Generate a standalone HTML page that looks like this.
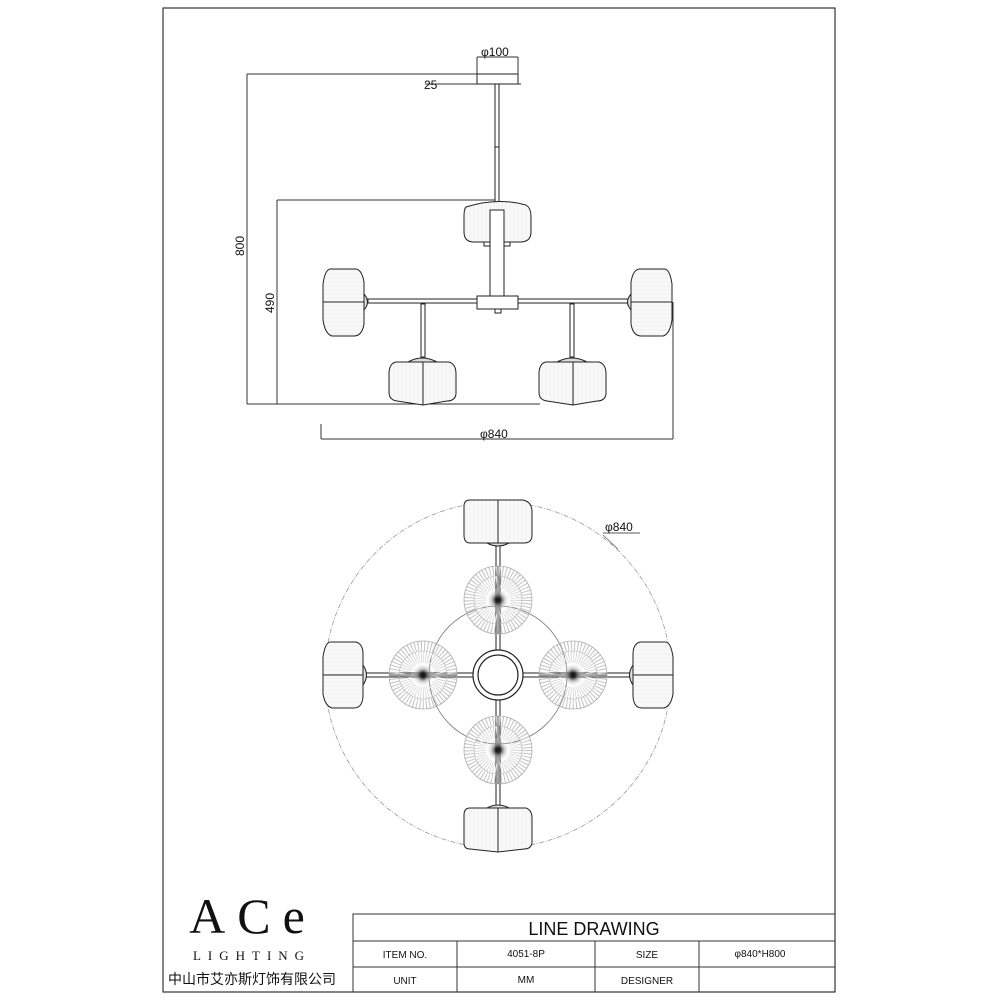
<!DOCTYPE html>
<html><head><meta charset="utf-8"><style>
html,body{margin:0;padding:0;background:#fff}
svg{display:block}
text{font-family:"Liberation Sans","Noto Sans CJK SC",sans-serif;fill:#111}
</style></head><body>
<svg width="1000" height="1000" viewBox="0 0 1000 1000" xmlns="http://www.w3.org/2000/svg">
<defs>
<pattern id="rib" width="4" height="10" patternUnits="userSpaceOnUse">
<rect width="4" height="10" fill="#f9f9f9"/><line x1="2" y1="0" x2="2" y2="10" stroke="#ececec" stroke-width="0.7"/>
</pattern>
<pattern id="ribh" width="10" height="4" patternUnits="userSpaceOnUse">
<rect width="10" height="4" fill="#f9f9f9"/><line x1="0" y1="2" x2="10" y2="2" stroke="#ececec" stroke-width="0.7"/>
</pattern>
<radialGradient id="cg">
<stop offset="0" stop-color="#000"/><stop offset="0.2" stop-color="#222"/><stop offset="0.55" stop-color="#999" stop-opacity="0.5"/><stop offset="1" stop-color="#fff" stop-opacity="0"/>
</radialGradient>
<g id="disk">
<circle r="29" fill="none" stroke="#c4c4c4" stroke-width="10" stroke-dasharray="1 2.2"/>
<circle r="18" fill="none" stroke="#cfcfcf" stroke-width="12" stroke-dasharray="0.7 1.6"/>
<circle r="34" fill="none" stroke="#b0b0b0" stroke-width="0.8"/>
<circle r="24" fill="none" stroke="#b5b5b5" stroke-width="0.6"/>
<circle r="12" fill="url(#cg)"/>
</g>
</defs>

<rect x="163" y="8" width="672" height="984" fill="none" stroke="#333" stroke-width="1.2"/>

<!-- SIDE VIEW -->
<g stroke="#333" stroke-width="1" fill="none">
<line x1="477" y1="57" x2="518" y2="57"/>
<line x1="477" y1="57" x2="477" y2="74"/>
<line x1="518" y1="57" x2="518" y2="74"/>
<line x1="247" y1="74" x2="518" y2="74"/>
<line x1="425" y1="84" x2="521" y2="84"/>
<line x1="247" y1="74" x2="247" y2="404"/>
<line x1="247" y1="404" x2="540" y2="404"/>
<line x1="277" y1="200" x2="497" y2="200"/>
<line x1="277" y1="200" x2="277" y2="404"/>
<line x1="321" y1="424" x2="321" y2="439"/>
<line x1="321" y1="439" x2="673" y2="439"/>
<line x1="673" y1="302" x2="673" y2="439"/>
</g>
<text x="481" y="56" font-size="12">φ100</text>
<text x="424" y="89" font-size="12">25</text>
<text x="480" y="438" font-size="12">φ840</text>
<text transform="translate(244,256) rotate(-90)" font-size="12">800</text>
<text transform="translate(274,313) rotate(-90)" font-size="12">490</text>

<g stroke="#222" stroke-width="1">
<rect x="477" y="74" width="41" height="10" fill="#fff"/>
<rect x="495" y="84" width="4" height="126" fill="#fff"/>
<line x1="495" y1="147" x2="499" y2="147"/>
<path d="M466 207 Q497 197 526 205 Q531 208 531 216 L531 232 Q531 242 520 242 L474 242 Q464 242 464 232 L464 216 Q464 209 466 207Z" fill="url(#rib)"/>
<rect x="484" y="242" width="26" height="4" fill="#fff"/>
<rect x="490" y="210" width="14" height="86" fill="#fff"/>
<rect x="368" y="299" width="260" height="4" fill="#fff"/>
<rect x="477" y="296" width="41" height="13" fill="#fff"/>
<rect x="495" y="309" width="6" height="4" fill="#fff"/>
<path d="M363 293 Q372 302 363 311Z" fill="#ddd"/>
<path d="M330 269 L356 269 Q362 270 364 282 L364 324 Q362 336 354 336 L332 336 Q325 334 323 320 L323 284 Q325 270 330 269Z" fill="url(#ribh)"/>
<line x1="323" y1="302" x2="364" y2="302"/>
<path d="M632 293 Q623 302 632 311Z" fill="#ddd"/>
<path d="M665 269 L639 269 Q633 270 631 282 L631 324 Q633 336 641 336 L663 336 Q670 334 672 320 L672 284 Q670 270 665 269Z" fill="url(#ribh)"/>
<line x1="631" y1="302" x2="672" y2="302"/>
<rect x="421" y="304" width="4" height="53" fill="#fff"/>
<rect x="570" y="304" width="4" height="53" fill="#fff"/>
<path d="M408 362 Q422 354 437 362Z" fill="#ddd"/>
<path d="M557 362 Q572 354 587 362Z" fill="#ddd"/>
<path d="M396 362 L449 362 Q456 364 456 374 L456 394 Q455 401 447 401 L423 405 L397 401 Q389 400 389 392 L389 372 Q390 363 396 362Z" fill="url(#rib)"/>
<line x1="423" y1="362" x2="423" y2="405"/>
<path d="M546 362 L599 362 Q606 364 606 374 L606 394 Q605 401 597 401 L573 405 L547 401 Q539 400 539 392 L539 372 Q540 363 546 362Z" fill="url(#rib)"/>
<line x1="573" y1="362" x2="573" y2="405"/>
</g>

<!-- TOP VIEW -->
<circle cx="498" cy="675" r="173" fill="none" stroke="#999" stroke-width="0.8" stroke-dasharray="5 1.5 1 1.5"/>
<circle cx="498" cy="675" r="69" fill="none" stroke="#777" stroke-width="0.8"/>
<g stroke="#222" stroke-width="1" fill="#fff">
<rect x="496" y="543" width="4" height="264"/>
<rect x="366" y="673" width="264" height="4"/>
</g>
<use href="#disk" x="498" y="600"/>
<use href="#disk" x="498" y="750"/>
<use href="#disk" x="423" y="675"/>
<use href="#disk" x="573" y="675"/>
<g stroke="#333" stroke-width="0.8">
<line x1="498" y1="566" x2="498" y2="634"/><line x1="498" y1="716" x2="498" y2="784"/>
<line x1="389" y1="675" x2="457" y2="675"/><line x1="539" y1="675" x2="607" y2="675"/>
</g>
<circle cx="498" cy="675" r="25" fill="#fff" stroke="#222" stroke-width="1.2"/>
<circle cx="498" cy="675" r="20" fill="#fff" stroke="#222" stroke-width="1.2"/>
<g stroke="#222" stroke-width="1">
<path d="M487 543 Q498 549 509 543Z" fill="#ddd"/>
<path d="M470 500 L523 500 Q532 502 532 512 L532 535 Q532 543 524 543 L470 543 Q464 543 464 535 L464 506 Q464 500 470 500Z" fill="url(#rib)"/>
<line x1="498" y1="500" x2="498" y2="543"/>
<path d="M487 808 Q498 802 509 808Z" fill="#ddd"/>
<path d="M470 808 L526 808 Q532 810 532 818 L532 843 Q531 849 524 849 L498 852 L470 849 Q464 849 464 843 L464 815 Q464 808 470 808Z" fill="url(#rib)"/>
<line x1="498" y1="808" x2="498" y2="852"/>
<path d="M363 665 Q370 675 363 685Z" fill="#ddd"/>
<path d="M330 642 L356 642 Q363 644 363 654 L363 697 Q362 708 354 708 L332 708 Q325 706 323 694 L323 657 Q325 643 330 642Z" fill="url(#ribh)"/>
<line x1="323" y1="675" x2="363" y2="675"/>
<path d="M633 665 Q626 675 633 685Z" fill="#ddd"/>
<path d="M666 642 L640 642 Q633 644 633 654 L633 697 Q634 708 642 708 L664 708 Q671 706 673 694 L673 657 Q671 643 666 642Z" fill="url(#ribh)"/>
<line x1="633" y1="675" x2="673" y2="675"/>
</g>
<text x="605" y="531" font-size="12">φ840</text>
<line x1="603" y1="533" x2="640" y2="533" stroke="#222" stroke-width="0.8"/>
<line x1="603" y1="535" x2="618" y2="549" stroke="#666" stroke-width="0.8"/>

<!-- LOGO -->
<text x="253" y="933" font-size="50" text-anchor="middle" style="font-family:'Liberation Serif',serif;letter-spacing:12px" fill="#111">ACe</text>
<text x="252" y="960" font-size="13" text-anchor="middle" style="font-family:'Liberation Serif',serif;letter-spacing:7px">LIGHTING</text>
<text x="252" y="984" font-size="14" text-anchor="middle">中山市艾亦斯灯饰有限公司</text>

<!-- TABLE -->
<g stroke="#333" stroke-width="1" fill="none">
<rect x="353" y="914" width="482" height="78"/>
<line x1="353" y1="941" x2="835" y2="941"/>
<line x1="353" y1="967" x2="835" y2="967"/>
<line x1="457" y1="941" x2="457" y2="992"/>
<line x1="595" y1="941" x2="595" y2="992"/>
<line x1="699" y1="941" x2="699" y2="992"/>
</g>
<text x="594" y="935" font-size="18" text-anchor="middle">LINE DRAWING</text>
<g font-size="10" text-anchor="middle">
<text x="405" y="958">ITEM NO.</text>
<text x="526" y="957">4051-8P</text>
<text x="647" y="958">SIZE</text>
<text x="760" y="957">φ840*H800</text>
<text x="405" y="984">UNIT</text>
<text x="526" y="983">MM</text>
<text x="647" y="984">DESIGNER</text>
</g>
</svg>
</body></html>
